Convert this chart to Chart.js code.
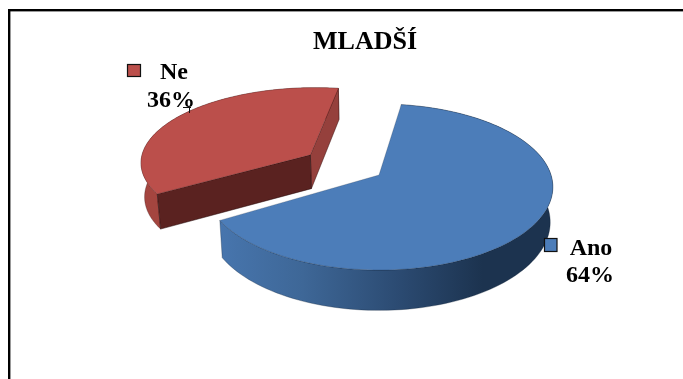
<!DOCTYPE html>
<html>
<head>
<meta charset="utf-8">
<style>html,body{margin:0;padding:0;background:#fff}#w{width:683px;height:379px;position:relative}</style>
<script src="https://cdn.jsdelivr.net/npm/chart.js@4"></script>
</head>
<body>
<div id="w"><canvas id="c" width="683" height="379"></canvas></div>
<script>
const chartTitle = "MLADŠÍ";
const categories = ["Ano", "Ne"];
const shares = [64, 36];

const sliceColors = ["#4c7db9", "#bb4f4b"];
const FONT = "'Liberation Serif', serif";
const SQUASH = [0.4727, 0.44], PERSP = [0.1446, 0.08], EXPLODE = [0, 0.49], DEPTH = 34.5, BASE_X = 0.985;

function project(el, i, u, v) {
  const w = 1 - PERSP[i] * v, r = el.outerRadius;
  return { x: el.x + r * u / w, y: el.y + r * SQUASH[i] * v / w, w };
}
function lower(el, p) {
  return { x: el.x + (p.x - el.x) * BASE_X, y: p.y + DEPTH / p.w };
}
function outline(el, i) {
  const mid = (el.startAngle + el.endAngle) / 2;
  const ou = EXPLODE[i] * Math.cos(mid), ov = EXPLODE[i] * Math.sin(mid);
  const arc = [];
  const n = 120;
  for (let k = 0; k <= n; k++) {
    const a = el.startAngle + (el.endAngle - el.startAngle) * k / n;
    arc.push(project(el, i, ou + Math.cos(a), ov + Math.sin(a)));
  }
  return { apex: project(el, i, ou, ov), arc };
}
function poly(ctx, pts, fill, stroke) {
  ctx.beginPath();
  pts.forEach((p, i) => i ? ctx.lineTo(p.x, p.y) : ctx.moveTo(p.x, p.y));
  ctx.closePath();
  ctx.fillStyle = fill;
  ctx.fill();
  if (stroke) { ctx.strokeStyle = stroke; ctx.lineWidth = 0.6; ctx.stroke(); }
}
const pie3d = {
  id: "pie3d",
  beforeDatasetDraw() { return false; },
  afterDatasetsDraw(chart) {
    const ctx = chart.ctx, els = chart.getDatasetMeta(0).data;
    ctx.save();
    ctx.fillStyle = "#000";
    ctx.fillRect(8, 9, 675, 2.4);
    ctx.fillRect(8, 9, 2.4, 370);

    // Ne (exploded)
    const r = outline(els[1], 1);
    const rBase = r.arc.map(p => lower(els[1], p)).reverse();
    poly(ctx, r.arc.concat(rBase), "#a4453f", "rgba(50,15,15,.5)");
    const first = r.arc[0], last = r.arc[r.arc.length - 1];
    poly(ctx, [r.apex, last, lower(els[1], last), lower(els[1], r.apex)], "#95403c", "rgba(40,10,10,.7)");
    poly(ctx, [r.apex, first, lower(els[1], first), lower(els[1], r.apex)], "#5a2220", "rgba(30,5,5,.8)");
    poly(ctx, [r.apex].concat(r.arc), sliceColors[1], "rgba(60,20,20,.35)");

    // Ano
    const b = outline(els[0], 0);
    const bBase = b.arc.map(p => lower(els[0], p)).reverse();
    const g = ctx.createLinearGradient(221, 0, 548, 0);
    g.addColorStop(0, "#4775ad");
    g.addColorStop(0.25, "#3e6797");
    g.addColorStop(0.55, "#2b4a71");
    g.addColorStop(0.8, "#1c334f");
    g.addColorStop(1, "#1c334f");
    poly(ctx, b.arc.concat(bBase), g, "rgba(15,30,50,.5)");
    poly(ctx, [b.apex].concat(b.arc), sliceColors[0], "rgba(15,30,50,.35)");

    // legend keys with values
    ctx.lineWidth = 1.2;
    ctx.strokeStyle = "#111";
    ctx.fillStyle = sliceColors[0];
    ctx.fillRect(544.5, 238.5, 12.5, 13); ctx.strokeRect(544.5, 238.5, 12.5, 13);
    ctx.fillStyle = sliceColors[1];
    ctx.fillRect(127.5, 64.5, 13, 12); ctx.strokeRect(127.5, 64.5, 13, 12);
    ctx.lineWidth = 1;
    ctx.beginPath();
    ctx.moveTo(183, 107.5); ctx.lineTo(191, 107.5); ctx.moveTo(189.5, 107.5); ctx.lineTo(189.5, 113);
    ctx.stroke();

    ctx.fillStyle = "#000";
    ctx.textBaseline = "alphabetic";
    ctx.textAlign = "center";
    ctx.font = "bold 26px " + FONT;
    ctx.fillText(chartTitle, 365, 49);
    ctx.font = "bold 24px " + FONT;
    ctx.fillText(categories[0], 591, 255);
    ctx.fillText(shares[0] + "%", 590, 282);
    ctx.fillText(categories[1], 174, 79);
    ctx.fillText(shares[1] + "%", 171, 107);
    ctx.restore();
  }
};
new Chart(document.getElementById("c"), {
  type: "pie",
  data: { labels: categories, datasets: [{ data: shares, backgroundColor: sliceColors, borderWidth: 0 }] },
  options: {
    responsive: false,
    animation: false,
    rotation: 8.5,
    layout: { padding: { left: 207, right: 132, top: 3, bottom: 32 } },
    plugins: { legend: { display: false }, tooltip: { enabled: false }, title: { display: false } }
  },
  plugins: [pie3d]
});
</script>
</body>
</html>
